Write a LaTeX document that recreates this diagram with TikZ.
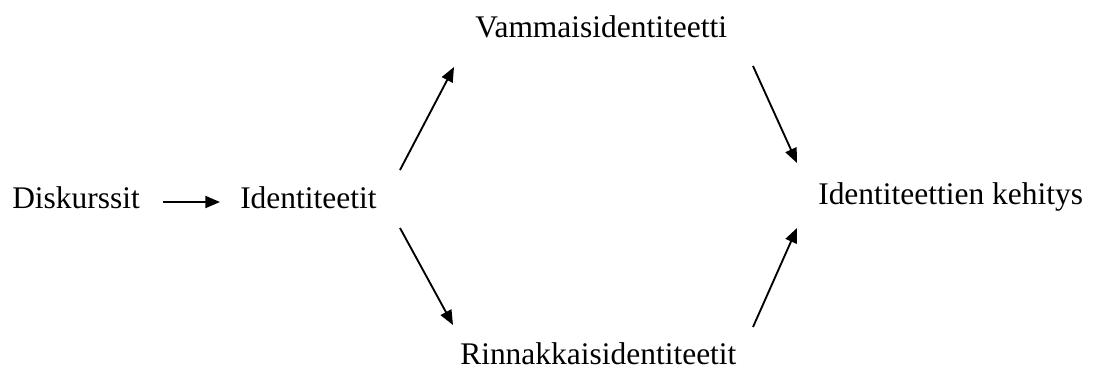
\documentclass[tikz,border=0pt]{standalone}
\usepackage{fontspec}
\setmainfont{Liberation Serif}
\usetikzlibrary{arrows.meta}
\begin{document}
\begin{tikzpicture}[x=0.75pt,y=-0.75pt,
  lbl/.style={anchor=base west,inner sep=0pt,font=\fontsize{23.6}{28}\selectfont},
  conn/.style={line width=1.4pt,-{Triangle[length=11pt,width=9pt]}}]
\useasboundingbox (0,0) rectangle (1095,369);
\node[lbl] (disk) at (12,208) {Diskurssit};
\node[lbl] (iden) at (240,208) {Identiteetit};
\node[lbl] (vamm) at (475,37) {Vammaisidentiteetti};
\node[lbl] (rinn) at (460,364) {Rinnakkaisidentiteetit};
\node[lbl] (kehi) at (818,204) {Identiteettien kehitys};
\coordinate (a1s) at (163,202);
\coordinate (a1e) at (220,202);
\coordinate (a2s) at (400,170);
\coordinate (a2e) at (454,67);
\coordinate (a3s) at (753,66);
\coordinate (a3e) at (797,163);
\coordinate (a4s) at (400,228);
\coordinate (a4e) at (453,325);
\coordinate (a5s) at (753,327);
\coordinate (a5e) at (797,228);
\draw[conn] (a1s) -- (a1e);
\draw[conn] (a2s) -- (a2e);
\draw[conn] (a3s) -- (a3e);
\draw[conn] (a4s) -- (a4e);
\draw[conn] (a5s) -- (a5e);
\end{tikzpicture}
\end{document}
